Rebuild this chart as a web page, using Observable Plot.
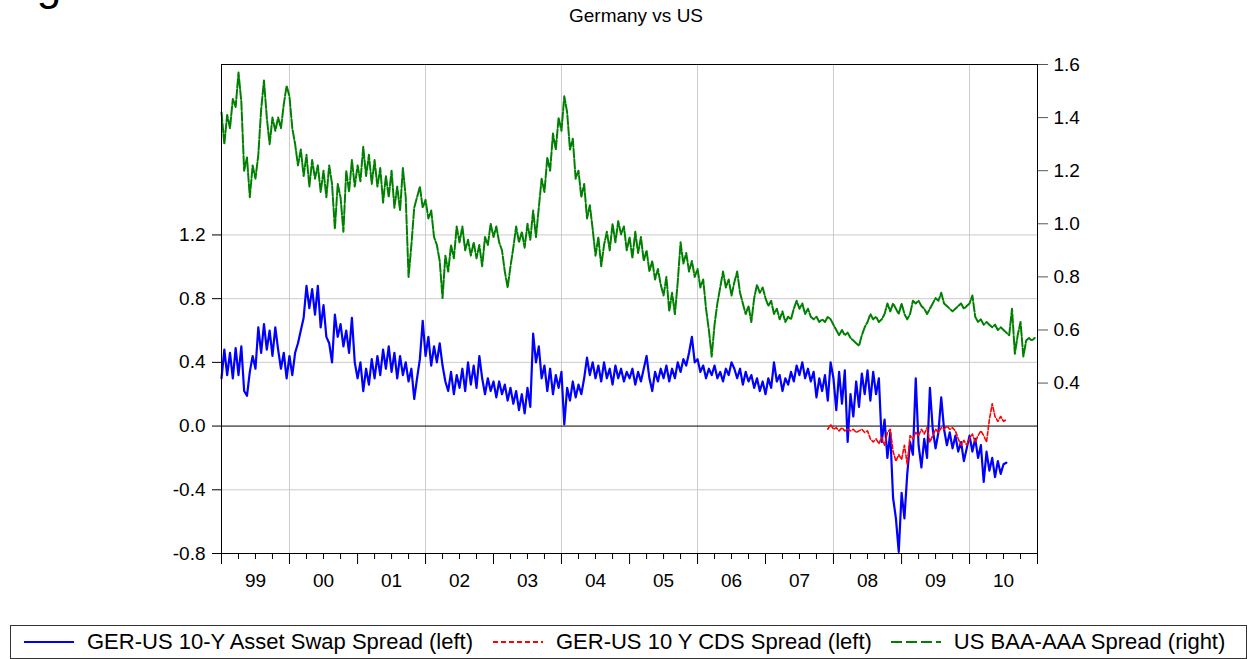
<!DOCTYPE html>
<html>
<head>
<meta charset="utf-8">
<script src="https://cdn.jsdelivr.net/npm/d3@7"></script>
<script src="https://cdn.jsdelivr.net/npm/@observablehq/plot@0.6"></script>
<style>
  html, body { margin: 0; padding: 0; background: #fff; }
  #wrap { position: relative; width: 1249px; height: 659px; overflow: hidden; font-family: Arial, "Liberation Sans", sans-serif; color: #000; }
  #fig { position: absolute; left: 0px; top: -37px; font-size: 44px; line-height: 44px; white-space: nowrap; }
  #title { position: absolute; left: 536px; width: 200px; top: 5px; text-align: center; font-size: 19px; }
  #chart { position: absolute; left: 0; top: 0; }
  #legend { position: absolute; left: 10px; top: 625px; width: 1235px; height: 32px; border: 1px solid #333; display: flex; align-items: center; font-size: 22px; white-space: nowrap; }
  .item { display: flex; align-items: center; }
</style>
</head>
<body>
<div id="wrap">
  <div id="fig">Figure</div>
  <div id="title">Germany vs US</div>
  <div id="chart"></div>
  <div id="legend"></div>
</div>
<script>
const seriesStep = 1 / 24;

const greenStart = 1999;
const greenValues = [
  1.42,1.30,1.41,1.36,1.47,1.44,1.57,1.46,1.20,1.25,1.10,1.22,1.17,1.26,1.43,1.54,1.40,1.30,1.40,1.35,1.40,1.36,1.45,1.52,
  1.48,1.36,1.30,1.22,1.28,1.18,1.26,1.14,1.24,1.17,1.22,1.12,1.20,1.10,1.22,1.15,0.98,1.15,1.10,0.97,1.20,1.12,1.24,1.14,
  1.22,1.16,1.29,1.18,1.26,1.15,1.24,1.14,1.21,1.08,1.18,1.10,1.20,1.06,1.14,1.05,1.21,1.10,0.80,0.92,1.06,1.10,1.14,1.06,
  1.09,1.02,1.05,0.95,0.92,0.86,0.72,0.88,0.82,0.92,0.87,0.99,0.93,0.99,0.90,0.94,0.88,0.93,0.87,0.92,0.84,0.95,0.92,1.00,
  0.95,0.99,0.93,0.90,0.82,0.76,0.84,0.91,0.99,0.93,0.97,0.91,1.00,0.94,1.05,0.95,1.06,1.17,1.12,1.25,1.20,1.34,1.28,1.40,
  1.35,1.48,1.42,1.28,1.32,1.17,1.20,1.10,1.15,1.02,1.07,0.98,0.88,0.95,0.84,0.92,0.97,0.90,1.00,0.93,1.01,0.96,0.99,0.90,
  0.95,0.87,0.97,0.89,0.95,0.86,0.90,0.82,0.86,0.79,0.83,0.77,0.73,0.80,0.67,0.74,0.66,0.78,0.93,0.85,0.89,0.82,0.86,0.80,
  0.83,0.76,0.79,0.68,0.60,0.50,0.62,0.70,0.76,0.82,0.76,0.79,0.73,0.78,0.82,0.74,0.70,0.66,0.69,0.63,0.72,0.77,0.74,0.76,
  0.72,0.69,0.71,0.66,0.68,0.64,0.67,0.63,0.65,0.64,0.68,0.71,0.68,0.70,0.66,0.68,0.65,0.64,0.65,0.63,0.64,0.63,0.65,0.64,
  0.62,0.60,0.58,0.60,0.58,0.59,0.57,0.56,0.55,0.54,0.58,0.61,0.63,0.66,0.64,0.65,0.63,0.64,0.66,0.70,0.67,0.70,0.68,0.66,
  0.70,0.66,0.64,0.66,0.71,0.70,0.71,0.69,0.68,0.66,0.68,0.70,0.72,0.71,0.74,0.70,0.69,0.68,0.67,0.68,0.69,0.70,0.68,0.69,
  0.70,0.73,0.65,0.63,0.64,0.62,0.63,0.62,0.61,0.62,0.60,0.61,0.60,0.59,0.58,0.68,0.51,0.58,0.63,0.50,0.56,0.57,0.56,0.57
];

const blueStart = 1999;
const blueValues = [
  0.30,0.48,0.32,0.46,0.30,0.49,0.32,0.50,0.22,0.19,0.34,0.44,0.36,0.62,0.46,0.64,0.48,0.60,0.44,0.62,0.48,0.36,0.46,0.30,
  0.44,0.32,0.46,0.52,0.60,0.68,0.88,0.74,0.86,0.70,0.88,0.62,0.76,0.56,0.52,0.40,0.70,0.56,0.64,0.50,0.60,0.46,0.68,0.40,
  0.30,0.40,0.22,0.36,0.26,0.42,0.30,0.44,0.32,0.48,0.36,0.50,0.34,0.46,0.30,0.44,0.32,0.40,0.28,0.36,0.17,0.30,0.42,0.66,
  0.44,0.56,0.38,0.50,0.40,0.52,0.38,0.28,0.22,0.34,0.20,0.32,0.24,0.36,0.22,0.40,0.26,0.38,0.24,0.44,0.30,0.20,0.30,0.22,
  0.28,0.18,0.28,0.20,0.26,0.16,0.24,0.14,0.22,0.10,0.20,0.08,0.24,0.12,0.58,0.40,0.50,0.30,0.38,0.22,0.36,0.20,0.32,0.24,
  0.34,0.01,0.24,0.16,0.28,0.18,0.26,0.20,0.30,0.43,0.32,0.40,0.30,0.38,0.28,0.40,0.30,0.36,0.26,0.38,0.30,0.36,0.28,0.34,
  0.30,0.36,0.26,0.34,0.28,0.36,0.44,0.30,0.22,0.34,0.28,0.36,0.30,0.38,0.28,0.36,0.30,0.40,0.34,0.42,0.38,0.46,0.56,0.40,
  0.42,0.34,0.38,0.30,0.36,0.32,0.38,0.30,0.34,0.28,0.36,0.32,0.40,0.36,0.30,0.36,0.26,0.34,0.28,0.32,0.24,0.30,0.22,0.28,
  0.20,0.30,0.24,0.40,0.28,0.32,0.22,0.30,0.26,0.34,0.28,0.38,0.32,0.40,0.30,0.36,0.28,0.34,0.18,0.30,0.22,0.32,0.16,0.40,
  0.30,0.10,0.34,0.14,0.35,-0.10,0.20,0.06,0.28,0.12,0.33,0.20,0.35,0.16,0.34,0.20,0.30,-0.10,0.04,-0.20,-0.04,-0.45,-0.58,-0.79,
  -0.42,-0.58,-0.30,-0.10,-0.18,0.30,-0.12,-0.26,-0.08,-0.20,0.24,-0.02,-0.14,-0.04,0.18,-0.02,-0.12,-0.04,-0.14,-0.06,-0.16,-0.10,-0.22,-0.14,
  -0.06,-0.16,-0.08,-0.20,-0.12,-0.35,-0.16,-0.28,-0.20,-0.32,-0.22,-0.30,-0.24,-0.23
];

const redStart = 2007 + 22 / 24;
const redValues = [
  -0.02,0.01,-0.02,-0.01,-0.03,-0.01,-0.03,-0.02,-0.03,-0.02,-0.04,-0.03,-0.02,-0.04,-0.03,-0.08,-0.10,-0.08,-0.11,-0.07,
  -0.12,-0.04,-0.02,-0.16,-0.22,-0.18,-0.21,-0.12,-0.24,-0.06,-0.08,-0.04,-0.06,-0.02,-0.05,-0.01,-0.10,-0.06,-0.02,-0.04,
  -0.01,-0.02,0.00,-0.02,-0.01,-0.03,-0.08,-0.12,-0.09,-0.12,-0.08,-0.05,-0.10,-0.06,-0.03,-0.06,-0.10,0.04,0.14,0.06,
  0.03,0.06,0.03,0.04
];

const years = [1999,2000,2001,2002,2003,2004,2005,2006,2007,2008,2009,2010];
const yearLabels = ["99","00","01","02","03","04","05","06","07","08","09","10"];
const leftTicks = [-0.8,-0.4,0.0,0.4,0.8,1.2];
const leftTickLabels = ["-0.8","-0.4","0.0","0.4","0.8","1.2"];
const leftGrid = [-0.4,0.4,0.8,1.2];
const rightTicks = [0.4,0.6,0.8,1.0,1.2,1.4,1.6];
const rightTickLabels = ["0.4","0.6","0.8","1.0","1.2","1.4","1.6"];
const leftDomain = [-0.8, 2.27];
const rightDomain = [-0.242, 1.6];

const seriesNames = ["GER-US 10-Y Asset Swap Spread (left)", "GER-US 10 Y CDS Spread (left)", "US BAA-AAA Spread (right)"];
const seriesColors = ["#0000ff", "#ff0000", "#008000"];
const seriesDash = [null, "4,2", "9,2"];

// ---- helpers ----
function fromYearFrac(y) {
  const yr = Math.floor(y + 1e-9);
  const f = y - yr;
  const a = Date.UTC(yr, 0, 1), b = Date.UTC(yr + 1, 0, 1);
  return new Date(a + f * (b - a));
}
const toLeft = v => leftDomain[0] + (v - rightDomain[0]) * (leftDomain[1] - leftDomain[0]) / (rightDomain[1] - rightDomain[0]);

const green = greenValues.map((v, i) => ({date: fromYearFrac(greenStart + i * seriesStep), y: toLeft(v)}));
const blue = blueValues.map((v, i) => ({date: fromYearFrac(blueStart + i * seriesStep), y: v}));
const red = redValues.map((v, i) => ({date: fromYearFrac(redStart + i * seriesStep), y: v}));

const yearDates = years.concat([years[years.length - 1] + 1]).map(y => fromYearFrac(y));
const evenYearDates = years.filter(y => y % 2 === 0).map(y => fromYearFrac(y));
const quarterDates = years.flatMap(y => [0.25, 0.5, 0.75].map(q => fromYearFrac(y + q)));
const midYearDates = years.map(y => fromYearFrac(y + 0.5));

const chart = Plot.plot({
  width: 1249,
  height: 600,
  marginLeft: 221,
  marginRight: 212,
  marginTop: 64,
  marginBottom: 47,
  style: {fontFamily: 'Arial, "Liberation Sans", sans-serif', fontSize: "19px", color: "#000", background: "transparent"},
  x: {type: "utc", domain: [fromYearFrac(1999), fromYearFrac(2011)]},
  y: {domain: leftDomain},
  marks: [
    Plot.gridX(evenYearDates, {stroke: "#cccccc", strokeOpacity: 1}),
    Plot.gridY(leftGrid, {stroke: "#cccccc", strokeOpacity: 1}),
    Plot.ruleY([0], {stroke: "#000"}),
    Plot.line(green, {x: "date", y: "y", stroke: seriesColors[2], strokeWidth: 2, strokeDasharray: seriesDash[2]}),
    Plot.line(blue, {x: "date", y: "y", stroke: seriesColors[0], strokeWidth: 2.2}),
    Plot.line(red, {x: "date", y: "y", stroke: seriesColors[1], strokeWidth: 1.6, strokeDasharray: seriesDash[1]}),
    Plot.frame({stroke: "#000"}),
    Plot.axisY({ticks: leftTicks, tickFormat: (d, i) => leftTickLabels[i], tickSize: 9, tickPadding: 7, label: null}),
    Plot.axisY({anchor: "right", ticks: rightTicks.map(toLeft), tickFormat: (d, i) => rightTickLabels[i], tickSize: 10, tickPadding: 6, label: null, stroke: "#555"}),
    Plot.axisX({ticks: quarterDates, tickSize: 6, tickFormat: () => "", label: null}),
    Plot.axisX({ticks: yearDates, tickSize: 11, tickFormat: () => "", label: null}),
    Plot.axisX({ticks: midYearDates, tickSize: 0, tickPadding: 20, tickFormat: (d, i) => yearLabels[i], label: null})
  ]
});
document.getElementById("chart").appendChild(chart);

// ---- legend ----
const legend = document.getElementById("legend");
const itemGaps = [13, 20, 19];
const legendDash = [null, "5,3", "11,4"];
seriesNames.forEach((name, i) => {
  const item = document.createElement("div");
  item.className = "item";
  item.style.marginLeft = itemGaps[i] + "px";
  const dash = legendDash[i] ? ` stroke-dasharray="${legendDash[i]}"` : "";
  item.innerHTML = `<svg width="50" height="10" style="margin-right:13px"><line x1="0" y1="5" x2="50" y2="5" stroke="${seriesColors[i]}" stroke-width="2"${dash}/></svg><span>${name}</span>`;
  legend.appendChild(item);
});
</script>
</body>
</html>
